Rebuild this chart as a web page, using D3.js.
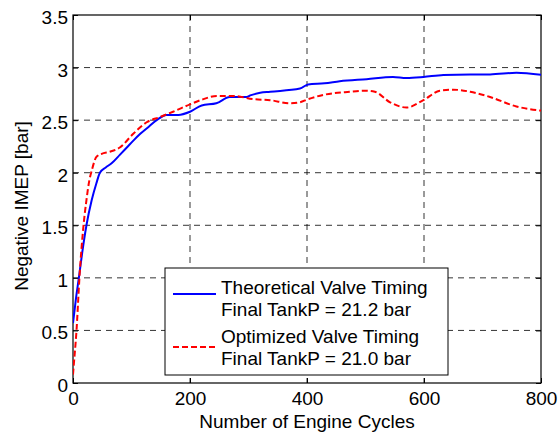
<!DOCTYPE html>
<html><head><meta charset="utf-8">
<script src="https://cdn.jsdelivr.net/npm/d3@7"></script>
<style>body{margin:0;background:#fff}svg{display:block}text{font-family:"Liberation Sans",Arial,sans-serif}</style>
</head><body><svg id="c" width="560" height="434"></svg>
<script>
const xTicks=[0,200,400,600,800];
const yTicks=[0,0.5,1,1.5,2,2.5,3,3.5];
const theoCycles=[0,5,10,16,23,32,40,46,56,66,80,92,104,115,130,143,160,180,200,220,245,268,297,303,320,337,388,402,430,456,502,547,570,599,633,679,713,758,801];
const theoValues=[0.57,0.8,1.0,1.25,1.5,1.74,1.9,2.0,2.05,2.09,2.17,2.24,2.31,2.37,2.44,2.5,2.55,2.55,2.58,2.64,2.66,2.72,2.72,2.735,2.76,2.77,2.8,2.84,2.85,2.87,2.89,2.91,2.9,2.91,2.93,2.935,2.935,2.95,2.93];
const optCycles=[0,1,6,11,18,23,28,32,40,49,63,80,103,126,149,171,200,223,246,274,308,337,371,388,402,428,473,499,516,542,570,599,627,650,679,713,758,801];
const optValues=[0.08,0.15,0.5,1.0,1.5,1.74,1.93,2.02,2.15,2.18,2.2,2.24,2.37,2.48,2.53,2.58,2.65,2.7,2.73,2.73,2.7,2.69,2.66,2.67,2.7,2.74,2.77,2.78,2.77,2.67,2.62,2.69,2.78,2.79,2.77,2.72,2.63,2.59];
const legendLabels=[["Theoretical Valve Timing","Final TankP = 21.2 bar"],["Optimized Valve Timing","Final TankP = 21.0 bar"]];

const L=73,R=541,T=15,B=383;
const svg=d3.select("#c");
const x=d3.scaleLinear().domain([0,800]).range([L,R]);
const y=d3.scaleLinear().domain([0,3.5]).range([B,T]);
const fs=19;

// grid
const g=svg.append("g");
g.selectAll(".gx").data(xTicks.slice(1,-1)).join("line")
 .attr("x1",d=>x(d)).attr("x2",d=>x(d)).attr("y1",T).attr("y2",B)
 .attr("stroke","#000").attr("stroke-width",0.8).attr("stroke-dasharray","6,5");
g.selectAll(".gy").data(yTicks.slice(1,-1)).join("line")
 .attr("y1",d=>y(d)).attr("y2",d=>y(d)).attr("x1",L).attr("x2",R)
 .attr("stroke","#000").attr("stroke-width",0.8).attr("stroke-dasharray","6,5");

// axes with inward ticks
const ax=(gen,tr)=>svg.append("g").attr("transform",tr).call(gen);
const fmt=d3.format("~g");
const xb=ax(d3.axisBottom(x).tickValues(xTicks).tickSize(-5).tickPadding(9).tickFormat(fmt),`translate(0,${B})`);
const xt=ax(d3.axisTop(x).tickValues(xTicks).tickSize(-5).tickFormat(""),`translate(0,${T})`);
const yl=ax(d3.axisLeft(y).tickValues(yTicks).tickSize(-5).tickPadding(5).tickFormat(fmt),`translate(${L},0)`);
const yr=ax(d3.axisRight(y).tickValues(yTicks).tickSize(-5).tickFormat(""),`translate(${R},0)`);
[xb,xt,yl,yr].forEach(a=>{a.select(".domain").remove();a.selectAll("line").attr("stroke","#000");a.selectAll("text").attr("font-size",fs).attr("fill","#000").style("font-family","Liberation Sans, Arial, sans-serif");});
yl.selectAll("text").attr("dy","0.45em");
svg.append("rect").attr("x",L).attr("y",T).attr("width",R-L).attr("height",B-T).attr("fill","none").attr("stroke","#000").attr("stroke-width",1.2);

// lines
const line=(xs,ys)=>d3.line().x((d,i)=>x(xs[i])).y((d,i)=>y(ys[i])).curve(d3.curveMonotoneX)(ys);
svg.append("clipPath").attr("id","cp").append("rect").attr("x",L).attr("y",T).attr("width",R-L).attr("height",B-T);
svg.append("path").attr("d",line(theoCycles,theoValues)).attr("fill","none").attr("stroke","#0000ff").attr("stroke-width",2).attr("clip-path","url(#cp)");
svg.append("path").attr("d",line(optCycles,optValues)).attr("fill","none").attr("stroke","#ff0000").attr("stroke-width",2).attr("stroke-dasharray","6,3").attr("clip-path","url(#cp)");

// legend
const lg=svg.append("g");
lg.append("rect").attr("x",165).attr("y",268).attr("width",283).attr("height",107).attr("fill","#fff").attr("stroke","#000").attr("stroke-width",1);
const cols=["#0000ff","#ff0000"],dash=[null,"6,3"],base=[294,343],lineY=[294,347];
legendLabels.forEach((lab,i)=>{
  lg.append("line").attr("x1",173).attr("x2",216).attr("y1",lineY[i]).attr("y2",lineY[i]).attr("stroke",cols[i]).attr("stroke-width",2).attr("stroke-dasharray",dash[i]);
  lab.forEach((t,j)=>lg.append("text").attr("x",221).attr("y",base[i]+j*22).attr("font-size",fs).text(t));
});

// axis labels
svg.append("text").attr("x",(L+R)/2).attr("y",428).attr("text-anchor","middle").attr("font-size",fs).text("Number of Engine Cycles");
svg.append("text").attr("transform",`translate(28,206) rotate(-90)`).attr("text-anchor","middle").attr("font-size",fs).text("Negative IMEP [bar]");
</script></body></html>
